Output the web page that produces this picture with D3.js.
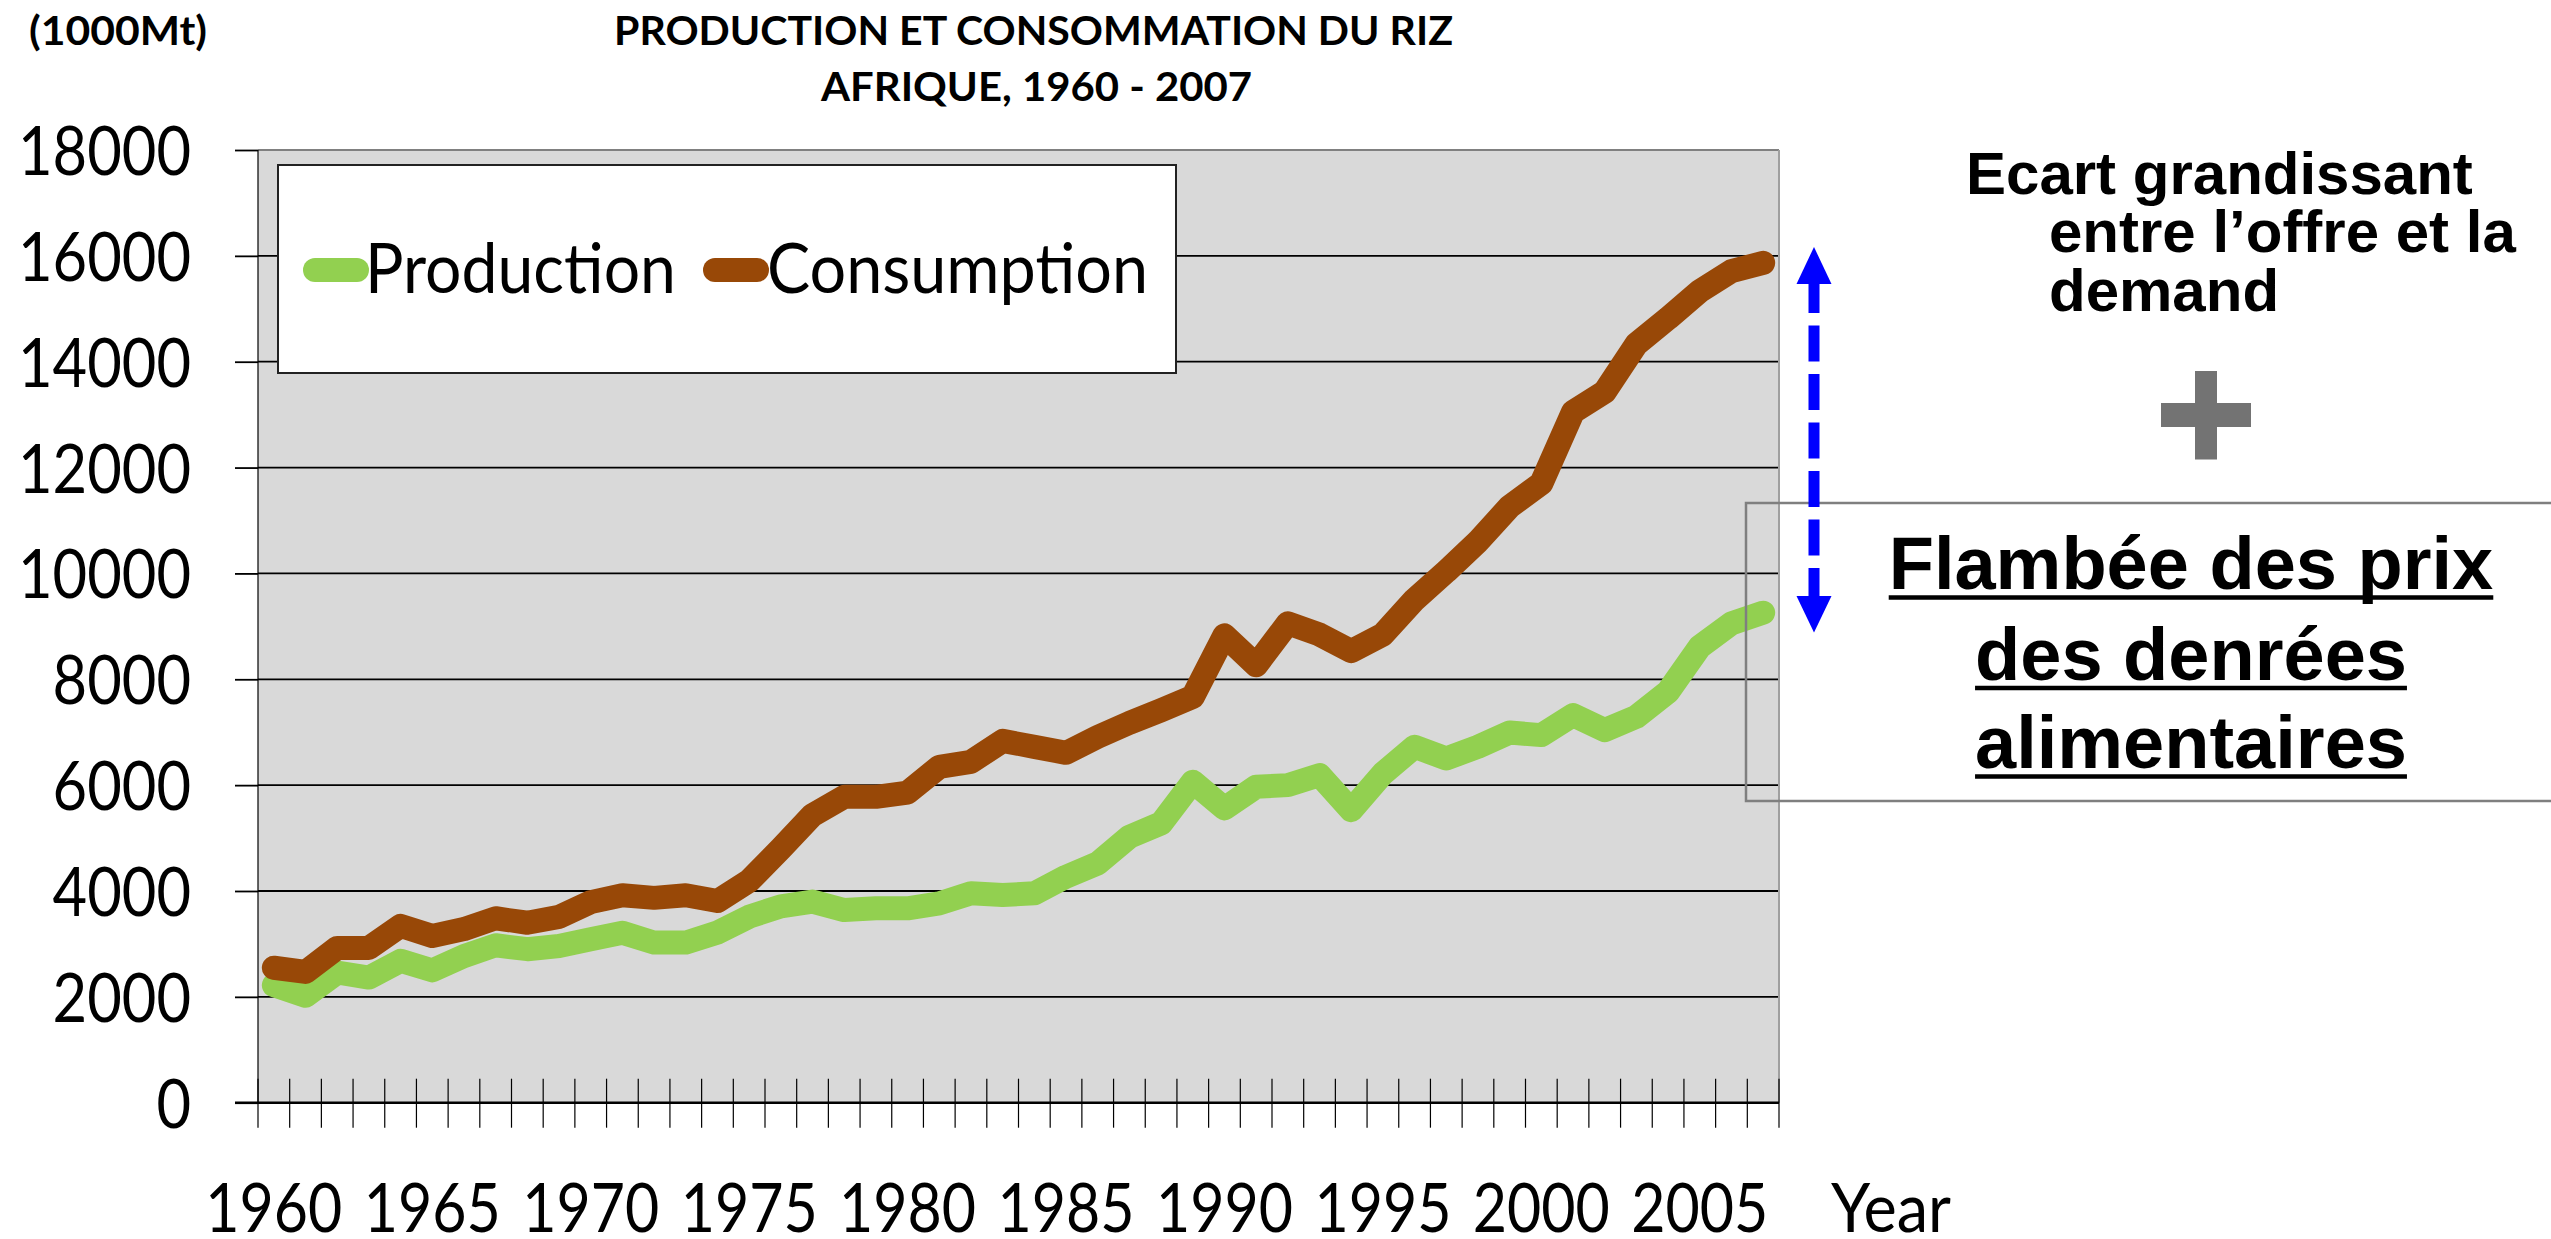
<!DOCTYPE html>
<html><head><meta charset="utf-8">
<script src="https://cdn.jsdelivr.net/npm/d3@7"></script>
<style>html,body{margin:0;padding:0;background:#fff;overflow:hidden}</style>
</head><body>
<svg id="c" width="2551" height="1239"></svg>
<script>
// ---------- DATA ----------
const years = [1960,1961,1962,1963,1964,1965,1966,1967,1968,1969,1970,1971,1972,1973,1974,1975,1976,1977,1978,1979,
  1980,1981,1982,1983,1984,1985,1986,1987,1988,1989,1990,1991,1992,1993,1994,1995,1996,1997,1998,1999,
  2000,2001,2002,2003,2004,2005,2006,2007];
const production = [2220,2020,2460,2365,2680,2500,2770,2975,2900,2960,3090,3210,3025,3025,3215,3515,3710,
  3800,3640,3673,3673,3767,3956,3925,3956,4270,4522,5025,5277,6063,5560,5969,
  6000,6190,5527,6220,6725,6504,6725,6995,6945,7323,7040,7292,7764,8615,9056,9258];
const consumption = [2550,2470,2925,2925,3340,3150,3280,3485,3400,3510,3790,3920,3870,3920,3810,4190,4800,
  5434,5780,5780,5860,6346,6440,6836,6723,6610,6912,7176,7415,7667,8830,8264,
  9060,8845,8530,8845,9504,10038,10603,11262,11702,13052,13429,14333,14820,15335,15711,15868];
const yTicks = [0,2000,4000,6000,8000,10000,12000,14000,16000,18000];
const xLabelYears = [1960,1965,1970,1975,1980,1985,1990,1995,2000,2005];
const seriesNames = ["Production","Consumption"];
const seriesColors = ["#92d050","#984807"];
const titleLines = ["PRODUCTION ET CONSOMMATION DU RIZ","AFRIQUE, 1960 - 2007"];
const unitLabel = "(1000Mt)";
const xAxisTitle = "Year";
const noteLines = ["Ecart grandissant","entre l\u2019offre et la","demand"];
const boxLines = ["Flamb\u00e9e des prix","des denr\u00e9es","alimentaires"];

// ---------- LAYOUT ----------
const svg = d3.select('#c');
const M = {left:258, right:1779, top:150, bottom:1102.7};
const x = d3.scaleBand().domain(years).range([M.left, M.right]).padding(0);
const y = d3.scaleLinear().domain([0,18000]).range([M.bottom, M.top]);
const cx = d => x(d) + x.bandwidth()/2;
const CAL = "Lato, 'Open Sans', sans-serif";
const ARIAL = "'Liberation Sans', Arial, sans-serif";

// plot background
svg.append('rect').attr('x',M.left).attr('y',M.top)
  .attr('width',M.right-M.left).attr('height',M.bottom-M.top).attr('fill','#d9d9d9');

// gridlines
svg.append('g').selectAll('line').data(yTicks.filter(v=>v>0 && v<18000)).join('line')
  .attr('x1',M.left).attr('x2',M.right).attr('y1',d=>y(d)).attr('y2',d=>y(d))
  .attr('stroke','#000').attr('stroke-width',1.8);

// plot border top/right
svg.append('line').attr('x1',M.left).attr('x2',M.right).attr('y1',y(18000)).attr('y2',y(18000))
  .attr('stroke','#808080').attr('stroke-width',2);
svg.append('line').attr('x1',M.right).attr('x2',M.right).attr('y1',M.top).attr('y2',M.bottom)
  .attr('stroke','#a0a0a0').attr('stroke-width',2);

// y axis
const gy = svg.append('g').attr('transform',`translate(${M.left},0)`)
  .call(d3.axisLeft(y).tickValues(yTicks).tickFormat(d3.format('d')).tickSize(23).tickPadding(44));
gy.select('.domain').remove();
gy.selectAll('.tick line').attr('stroke','#000').attr('stroke-width',1.8);
gy.selectAll('.tick text').attr('font-family',CAL).attr('font-size',68).attr('fill','#000')
  .attr('dy','0.36em').attr('textLength',d=>String(d).length*34.6).attr('lengthAdjust','spacingAndGlyphs');
svg.append('line').attr('x1',M.left).attr('x2',M.left).attr('y1',M.top).attr('y2',M.bottom)
  .attr('stroke','#000').attr('stroke-width',1.2);

// x axis ticks (between categories)
const bounds = years.map(d=>x(d)).concat([x.range()[1]]);
svg.append('g').selectAll('line').data(bounds).join('line')
  .attr('x1',d=>d).attr('x2',d=>d).attr('y1',y(0)-24).attr('y2',y(0)+25)
  .attr('stroke','#000').attr('stroke-width',1.2);
svg.append('line').attr('x1',M.left-23).attr('x2',M.right).attr('y1',y(0)).attr('y2',y(0))
  .attr('stroke','#000').attr('stroke-width',2.5);

// x labels
const gx = svg.append('g').attr('transform',`translate(0,${y(0)})`)
  .call(d3.axisBottom(x).tickValues(xLabelYears).tickSize(0));
gx.select('.domain').remove();
gx.selectAll('.tick text').attr('font-family',CAL).attr('font-size',68).attr('fill','#000')
  .attr('y',129.5).attr('dy',0).attr('textLength',137).attr('lengthAdjust','spacingAndGlyphs');
svg.append('text').attr('x',1831).attr('y',1232).attr('font-family',CAL).attr('font-size',68)
  .attr('textLength',120).attr('lengthAdjust','spacingAndGlyphs').text(xAxisTitle);

// lines
const line = d3.line().x((d,i)=>cx(years[i])).y(d=>y(d));
[production, consumption].forEach((s,k)=>{
  svg.append('path').datum(s).attr('d',line).attr('fill','none')
    .attr('stroke',seriesColors[k]).attr('stroke-width',24)
    .attr('stroke-linecap','round').attr('stroke-linejoin','round');
});

// legend
svg.append('rect').attr('x',278).attr('y',165).attr('width',898).attr('height',208)
  .attr('fill','#fff').attr('stroke','#222').attr('stroke-width',2);
const legPos = [{lx:315,tx:365,tw:311},{lx:715,tx:767,tw:381}];
seriesNames.forEach((n,k)=>{
  svg.append('line').attr('x1',legPos[k].lx).attr('x2',legPos[k].lx+42).attr('y1',270).attr('y2',270)
    .attr('stroke',seriesColors[k]).attr('stroke-width',24).attr('stroke-linecap','round');
  svg.append('text').attr('x',legPos[k].tx).attr('y',293).attr('font-family',CAL).attr('font-size',70)
    .attr('textLength',legPos[k].tw).attr('lengthAdjust','spacingAndGlyphs').text(n);
});

// titles
svg.append('text').attr('x',614).attr('y',45).attr('font-family',CAL).attr('font-weight','bold')
  .attr('font-size',39.5).attr('textLength',839).attr('lengthAdjust','spacingAndGlyphs').text(titleLines[0]);
svg.append('text').attr('x',821).attr('y',101).attr('font-family',CAL).attr('font-weight','bold')
  .attr('font-size',39.5).attr('textLength',431).attr('lengthAdjust','spacingAndGlyphs').text(titleLines[1]);
svg.append('text').attr('x',29).attr('y',45).attr('font-family',CAL).attr('font-weight','bold')
  .attr('font-size',41).attr('textLength',178).attr('lengthAdjust','spacingAndGlyphs').text(unitLabel);

// right annotation
const noteX = [1966,2049,2049], noteY = [194,251.5,311];
noteLines.forEach((t,i)=>{
  svg.append('text').attr('x',noteX[i]).attr('y',noteY[i]).attr('font-family',ARIAL)
    .attr('font-weight','bold').attr('font-size',60).attr('fill','#000').text(t);
});
// plus sign
svg.append('rect').attr('x',2161).attr('y',403).attr('width',90).attr('height',24).attr('fill','#737373');
svg.append('rect').attr('x',2195).attr('y',371).attr('width',22).attr('height',88.5).attr('fill','#737373');

// box
svg.append('rect').attr('x',1746).attr('y',503).attr('width',900).attr('height',298)
  .attr('fill','none').attr('stroke','#7f7f7f').attr('stroke-width',2.5);
const boxY = [589,679.5,768];
boxLines.forEach((t,i)=>{
  const tx = svg.append('text').attr('x',2191).attr('y',boxY[i]).attr('text-anchor','middle')
    .attr('font-family',ARIAL).attr('font-weight','bold').attr('font-size',74).attr('fill','#000').text(t);
  const w = tx.node().getComputedTextLength();
  svg.append('line').attr('x1',2191-w/2).attr('x2',2191+w/2).attr('y1',boxY[i]+8.5).attr('y2',boxY[i]+8.5)
    .attr('stroke','#000').attr('stroke-width',4.6);
});

// blue dashed double arrow
svg.append('line').attr('x1',1814).attr('x2',1814).attr('y1',283).attr('y2',597)
  .attr('stroke','#0000ff').attr('stroke-width',11).attr('stroke-dasharray','36 12.5').attr('stroke-dashoffset',6);
svg.append('path').attr('d','M1814,247 L1831.5,284 L1796.5,284 Z').attr('fill','#0000ff');
svg.append('path').attr('d','M1814,632.6 L1796.5,596 L1831.5,596 Z').attr('fill','#0000ff');
</script>
</body></html>
